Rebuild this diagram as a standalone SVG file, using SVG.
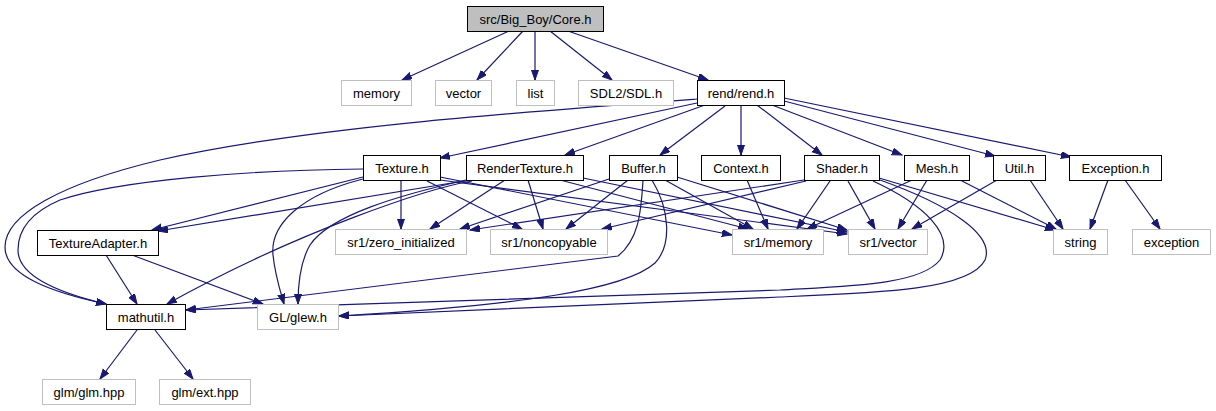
<svg xmlns="http://www.w3.org/2000/svg" width="1216" height="411" viewBox="0 0 1216 411">
<style>
.n rect{fill:#ffffff;stroke:#000000;stroke-width:1}
.x rect{fill:#ffffff;stroke:#bfbfbf;stroke-width:1}
.root rect{fill:#bfbfbf;stroke:#000000;stroke-width:1}
text{font-family:"Liberation Sans",Arial,Helvetica,sans-serif;font-size:13px;fill:#000000;text-anchor:middle}
#edges path{fill:none;stroke:#191970;stroke-width:1.2;marker-end:url(#arr)}
</style>
<defs>
<marker id="arr" markerUnits="userSpaceOnUse" markerWidth="11" markerHeight="8" refX="10" refY="3.5" orient="auto">
<path d="M0,0 L10,3.5 L0,7 z" fill="#191970" stroke="#191970" stroke-width="1"/>
</marker>
</defs>
<rect width="1216" height="411" fill="#ffffff"/>
<g id="edges">
<path d="M509,31 L402,80"/>
<path d="M523,31 L477,80"/>
<path d="M535,31 L535,80"/>
<path d="M550,31 L612,80"/>
<path d="M568,31 L708,80"/>
<path d="M697,103 L440,158"/>
<path d="M705,105 L565,155"/>
<path d="M725,106 L660,155"/>
<path d="M741,105 L741,155"/>
<path d="M757,105 L822,155"/>
<path d="M772,105 L902,155"/>
<path d="M784,101 L995,156"/>
<path d="M784,98 L1071,157"/>
<path d="M697,99 C520,112 300,128 160,160 C60,184 5,215 5,247 C5,275 50,292 106,304"/>
<path d="M363,169 C250,170 120,180 60,200 C25,215 18,235 18,250 C18,275 55,292 106,304"/>
<path d="M363,177 L152,230"/>
<path d="M363,179 C300,195 270,225 273,255 C275,275 280,290 284,304"/>
<path d="M401,181 L401,229"/>
<path d="M427,181 L522,229"/>
<path d="M440,177 L732,235"/>
<path d="M440,180 L847,234"/>
<path d="M470,180 L158,231"/>
<path d="M472,181 C430,188 300,230 167,304"/>
<path d="M466,180 C400,195 330,215 310,245 C300,262 298,285 298,304"/>
<path d="M505,180 L430,229"/>
<path d="M528,180 L543,229"/>
<path d="M560,180 L748,229"/>
<path d="M583,178 L847,232"/>
<path d="M612,178 L460,229"/>
<path d="M628,180 L566,229"/>
<path d="M665,180 L753,229"/>
<path d="M677,177 L847,230"/>
<path d="M643,180 C641,215 638,240 618,256 L186,310"/>
<path d="M652,180 C670,210 672,245 655,263 C625,290 520,305 339,316"/>
<path d="M747,180 L768,229"/>
<path d="M804,180 L470,230"/>
<path d="M806,181 L602,229"/>
<path d="M830,181 L797,229"/>
<path d="M848,181 L875,229"/>
<path d="M879,178 L1055,230"/>
<path d="M873,181 C925,205 955,235 940,260 C920,285 850,286 780,290 C600,296 400,301 186,310"/>
<path d="M880,180 C950,205 995,235 985,260 C970,290 880,293 780,297 C600,305 450,312 339,316"/>
<path d="M912,180 L807,229"/>
<path d="M927,180 L898,229"/>
<path d="M960,180 L1056,229"/>
<path d="M997,180 L912,229"/>
<path d="M1030,180 L1063,229"/>
<path d="M1108,180 L1090,229"/>
<path d="M1125,180 L1160,229"/>
<path d="M106,255 L137,304"/>
<path d="M132,255 L263,304"/>
<path d="M137,330 L100,379"/>
<path d="M155,330 L193,379"/>
</g>
<g id="core" class="root"><rect x="467.5" y="6.5" width="136" height="25"/><text x="535.5" y="23.5">src/Big_Boy/Core.h</text></g>
<g id="memory" class="x"><rect x="341.5" y="80.5" width="70" height="25"/><text x="376.5" y="97.5">memory</text></g>
<g id="vector" class="x"><rect x="435.5" y="80.5" width="56" height="25"/><text x="463.5" y="97.5">vector</text></g>
<g id="list" class="x"><rect x="516.5" y="80.5" width="38" height="25"/><text x="535.5" y="97.5">list</text></g>
<g id="sdl" class="x"><rect x="578.5" y="80.5" width="95" height="25"/><text x="626" y="97.5">SDL2/SDL.h</text></g>
<g id="rend" class="n"><rect x="697.5" y="80.5" width="87" height="25"/><text x="741" y="97.5">rend/rend.h</text></g>
<g id="texture" class="n"><rect x="363.5" y="155.5" width="77" height="25"/><text x="402" y="172.5">Texture.h</text></g>
<g id="rendertexture" class="n"><rect x="466.5" y="155.5" width="117" height="25"/><text x="525" y="172.5">RenderTexture.h</text></g>
<g id="buffer" class="n"><rect x="609.5" y="155.5" width="68" height="25"/><text x="643.5" y="172.5">Buffer.h</text></g>
<g id="context" class="n"><rect x="701.5" y="155.5" width="79" height="25"/><text x="741" y="172.5">Context.h</text></g>
<g id="shader" class="n"><rect x="804.5" y="155.5" width="75" height="25"/><text x="842" y="172.5">Shader.h</text></g>
<g id="mesh" class="n"><rect x="904.5" y="155.5" width="65" height="25"/><text x="937" y="172.5">Mesh.h</text></g>
<g id="util" class="n"><rect x="993.5" y="155.5" width="52" height="25"/><text x="1019.5" y="172.5">Util.h</text></g>
<g id="exception_h" class="n"><rect x="1069.5" y="155.5" width="92" height="25"/><text x="1115.5" y="172.5">Exception.h</text></g>
<g id="textureadapter" class="n"><rect x="37.5" y="230.5" width="121" height="25"/><text x="98" y="247.5">TextureAdapter.h</text></g>
<g id="zero" class="x"><rect x="335.5" y="229.5" width="131" height="25"/><text x="401" y="246.5">sr1/zero_initialized</text></g>
<g id="noncopyable" class="x"><rect x="490.5" y="229.5" width="117" height="25"/><text x="549" y="246.5">sr1/noncopyable</text></g>
<g id="sr1memory" class="x"><rect x="732.5" y="229.5" width="91" height="25"/><text x="778" y="246.5">sr1/memory</text></g>
<g id="sr1vector" class="x"><rect x="848.5" y="229.5" width="79" height="25"/><text x="888" y="246.5">sr1/vector</text></g>
<g id="string" class="x"><rect x="1053.5" y="229.5" width="54" height="25"/><text x="1080.5" y="246.5">string</text></g>
<g id="exception" class="x"><rect x="1132.5" y="229.5" width="78" height="25"/><text x="1171.5" y="246.5">exception</text></g>
<g id="mathutil" class="n"><rect x="106.5" y="304.5" width="79" height="25"/><text x="146" y="321.5">mathutil.h</text></g>
<g id="glew" class="x"><rect x="257.5" y="304.5" width="81" height="25"/><text x="298" y="321.5">GL/glew.h</text></g>
<g id="glm" class="x"><rect x="42.5" y="379.5" width="93" height="25"/><text x="89" y="396.5">glm/glm.hpp</text></g>
<g id="ext" class="x"><rect x="159.5" y="379.5" width="91" height="25"/><text x="205" y="396.5">glm/ext.hpp</text></g>
</svg>
